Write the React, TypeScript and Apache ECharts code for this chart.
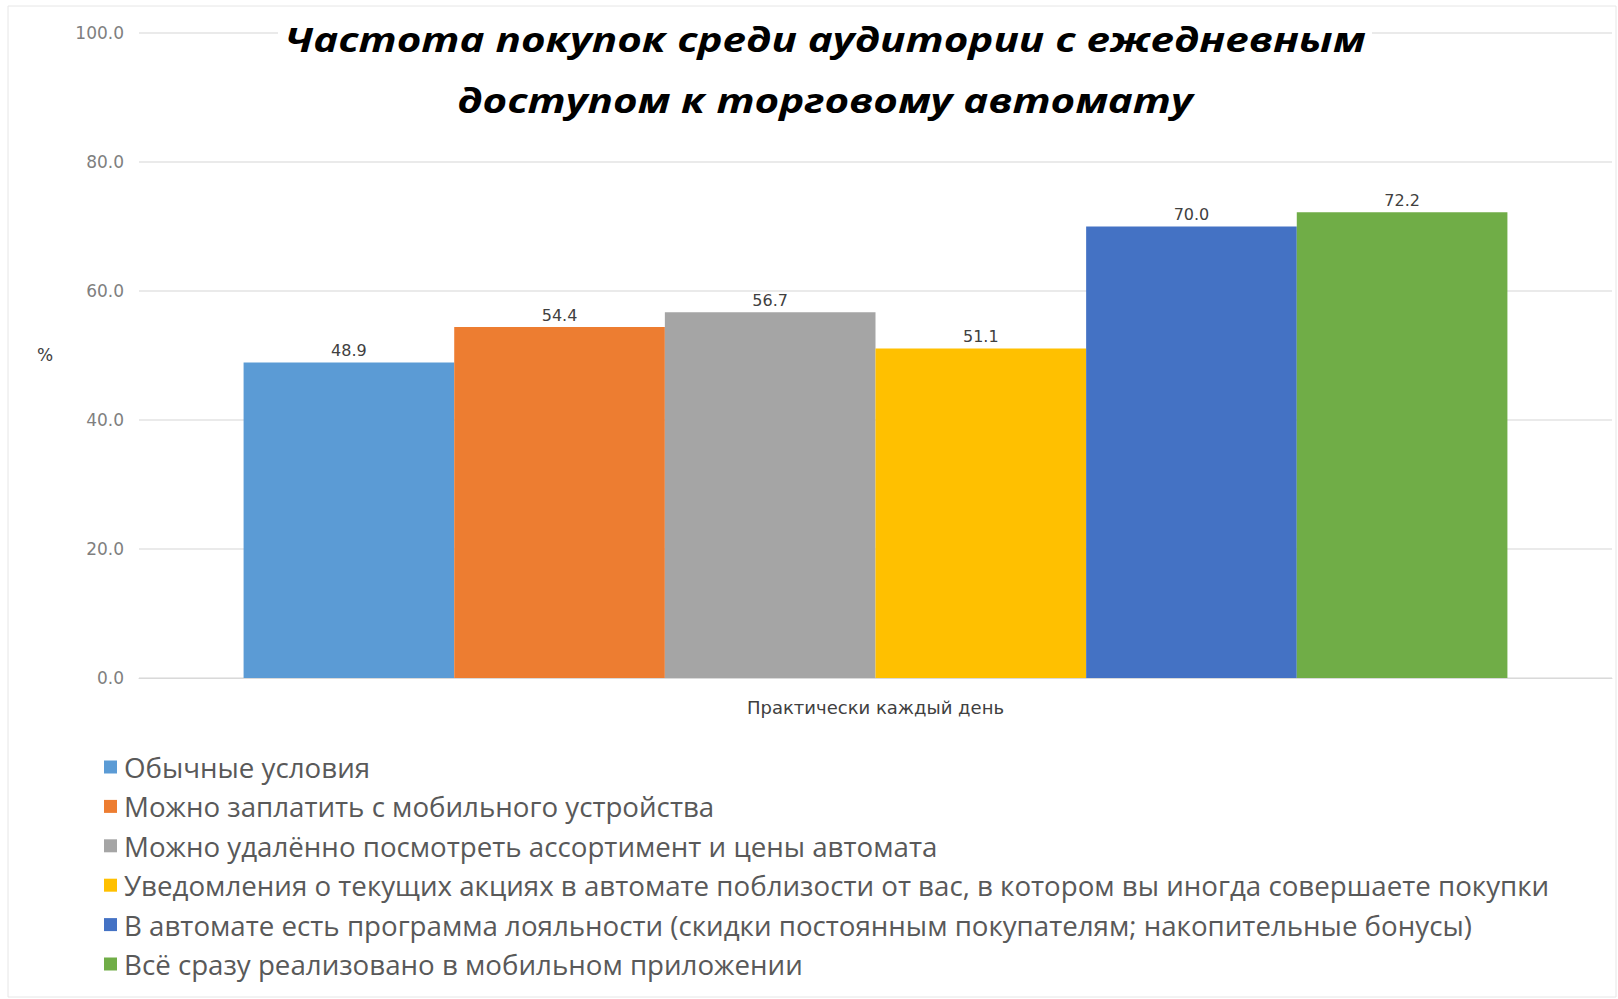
import React, { useEffect, useRef } from "react";
import * as echarts from "echarts";

const titleText = "Частота покупок среди аудитории с ежедневным\nдоступом к торговому автомату";
const categories = ["Практически каждый день"];
const seriesNames = [
  "Обычные условия",
  "Можно заплатить с мобильного устройства",
  "Можно удалённо посмотреть ассортимент и цены автомата",
  "Уведомления о текущих акциях в автомате поблизости от вас, в котором вы иногда совершаете покупки",
  "В автомате есть программа лояльности (скидки постоянным покупателям; накопительные бонусы)",
  "Всё сразу реализовано в мобильном приложении",
];
const seriesValues = [48.9, 54.4, 56.7, 51.1, 70.0, 72.2];
const colors = ["#5B9BD5", "#ED7D31", "#A5A5A5", "#FFC000", "#4472C4", "#70AD47"];
const yTicks = { min: 0, max: 100, interval: 20 };
const yName = "%";

export default function App() {
  const ref = useRef<HTMLDivElement>(null);
  useEffect(() => {
    if (!ref.current) return;
    const chart = echarts.init(ref.current, null, { renderer: "svg" });
    chart.setOption({
      animation: false,
      backgroundColor: "#fff",
      color: colors,
      graphic: [
        {
          type: "rect",
          shape: { x: 8, y: 6, width: 1608, height: 991 },
          style: { fill: "none", stroke: "#e6e6e6", lineWidth: 1 },
          silent: true,
          z: 100,
        },
        {
          type: "rect",
          shape: { x: 278, y: 10, width: 1094, height: 110 },
          style: { fill: "#fff" },
          silent: true,
          z: 100,
        },
        {
          type: "text",
          x: 825,
          y: 8,
          scaleX: 1.24,
          z: 101,
          style: {
            text: titleText,
            textAlign: "center",
            textVerticalAlign: "top",
            fontFamily: "Open Sans",
            fontStyle: "italic",
            fontWeight: "bold",
            fontSize: 34,
            lineHeight: 61,
            fill: "#000",
          },
        },
        {
          type: "text",
          x: 37,
          y: 346,
          z: 101,
          style: { text: yName, fontFamily: "DejaVu Sans", fontSize: 17, fill: "#404040" },
        },
      ],
      grid: { left: 139, right: 6, top: 33, bottom: 321, containLabel: false },
      legend: {
        orient: "vertical",
        left: 99,
        top: 748,
        itemWidth: 13,
        itemHeight: 13,
        itemGap: 11.4,
        icon: "rect",
        data: seriesNames,
        textStyle: {
          fontFamily: "Open Sans",
          fontSize: 27.7,
          color: "#595959",
          padding: [0, 0, 0, 2],
        },
      },
      xAxis: {
        type: "category",
        data: categories,
        axisLine: { show: true, lineStyle: { color: "#d9d9d9" } },
        axisTick: { show: false },
        axisLabel: { fontFamily: "DejaVu Sans", fontSize: 18, color: "#404040", margin: 20 },
      },
      yAxis: {
        type: "value",
        min: yTicks.min,
        max: yTicks.max,
        interval: yTicks.interval,
        axisLine: { show: false },
        axisTick: { show: false },
        splitLine: { lineStyle: { color: "#e3e3e3", width: 1.5 } },
        axisLabel: {
          fontFamily: "DejaVu Sans",
          fontSize: 17,
          color: "#7f7f7f",
          margin: 15,
          formatter: (v: number) => v.toFixed(1),
        },
      },
      series: seriesNames.map((name, i) => ({
        name,
        type: "bar",
        data: [seriesValues[i]],
        barGap: "0%",
        barCategoryGap: "14.2%",
        label: {
          show: true,
          position: "top",
          distance: 4,
          fontFamily: "DejaVu Sans",
          fontSize: 16,
          color: "#404040",
          formatter: (p: any) => Number(p.value).toFixed(1),
        },
      })),
    });
    return () => chart.dispose();
  }, []);
  return (
    <div
      ref={ref}
      style={{ position: "fixed", left: 0, top: 0, width: 1618, height: 999 }}
    />
  );
}
